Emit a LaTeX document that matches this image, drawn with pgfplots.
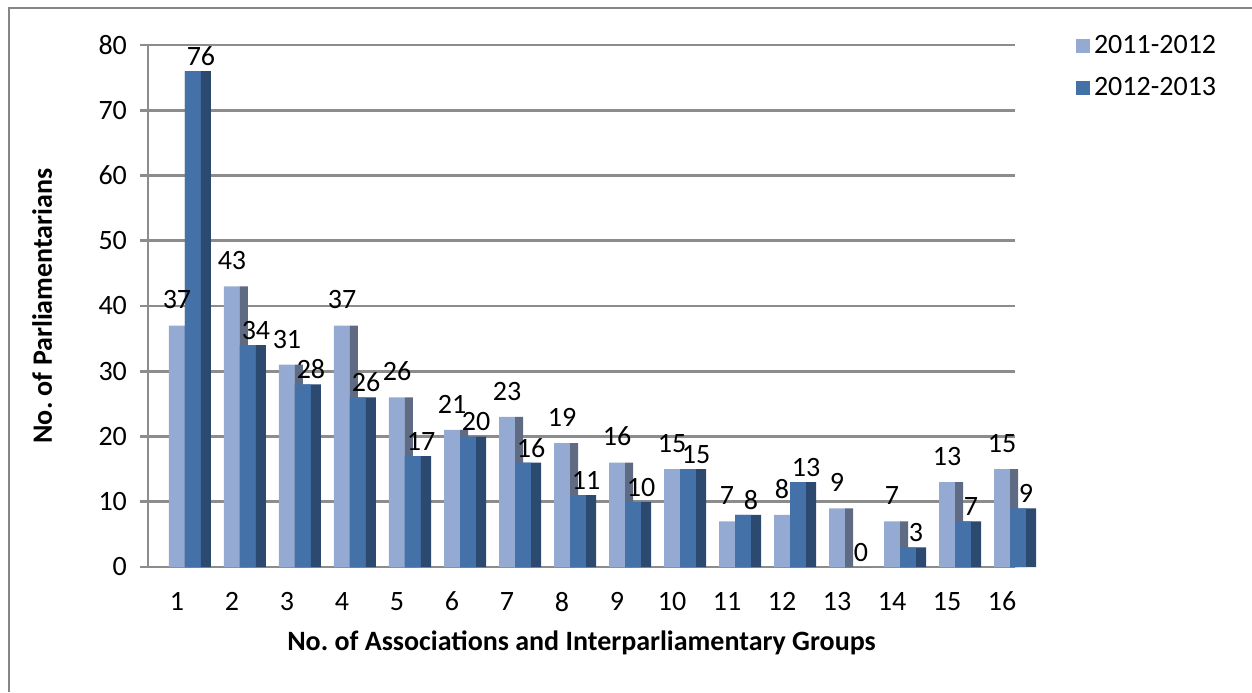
\documentclass[border=0pt]{standalone}
\usepackage{pgfplots}
\pgfplotsset{compat=1.18}
\usepackage{fontspec}
\setmainfont{Carlito}
\frenchspacing
\definecolor{lightbar}{HTML}{95AAD2}
\definecolor{lightside}{HTML}{5F6B82}
\definecolor{darkbar}{HTML}{4571A9}
\definecolor{darkside}{HTML}{2C4A70}
\definecolor{gridgray}{HTML}{8C8C8C}
\pgfplotstableread{
x a b
1 37 76
2 43 34
3 31 28
4 37 26
5 26 17
6 21 20
7 23 16
8 19 11
9 16 10
10 15 15
11 7 8
12 8 13
13 9 0
14 7 3
15 13 7
16 15 9
}\datatable
\begin{document}
\begin{tikzpicture}
\path[use as bounding box] (0,0) rectangle (626pt,346pt);
\draw[color=gray!95, line width=1pt] (4.25pt,0pt) -- (4.25pt,341.75pt) -- (626pt,341.75pt);
\begin{axis}[
  at={(74pt,62.5pt)}, anchor=south west,
  scale only axis, width=433.5pt, height=261pt,
  ybar, clip=false,
  xmin=0.473, xmax=16.236, ymin=0, ymax=80,
  xtick={1,...,16}, ytick={0,10,...,80},
  axis x line*=bottom, axis y line*=left,
  axis line style={gridgray, line width=1.3pt, -},
  x tick style={draw=none},
  y tick style={gridgray, line width=1.3pt},
  tick align=outside, major tick length=4pt,
  ymajorgrids, grid style={gridgray, line width=1.3pt},
  /pgf/number format/assume math mode=true,
  ticklabel style={font=\fontsize{14}{16}\selectfont},
  xticklabel style={yshift=-5pt},
  yticklabel style={xshift=-3pt},
  xlabel={\textbf{No. of Associations and Interparliamentary Groups}},
  ylabel={\textbf{No. of Parliamentarians}},
  label style={font=\fontsize{14}{16}\selectfont},
  xlabel style={at={(axis description cs:0.5,-0.146)}, anchor=center},
  ylabel style={at={(axis description cs:-0.122,0.5)}, anchor=center},
  legend style={at={(1.063,1.035)}, anchor=north west, draw=none, fill=none,
    font=\fontsize{14}{16}\selectfont, row sep=6.5pt},
  legend cell align=left,
  legend image code/.code={\fill[#1] (0pt,-3.5pt) rectangle (7pt,3.5pt);},
  every node near coord/.append style={font=\fontsize{14}{16}\selectfont, black, inner sep=1pt},
]
\addplot[fill=lightbar, draw=none, bar width=8pt, bar shift=0pt,
  nodes near coords, every node near coord/.append style={xshift=0pt, yshift=7pt}] table[x=x,y=a]{\datatable};
\addlegendentry{2011-2012}
\addplot[fill=darkbar, draw=none, bar width=8pt, bar shift=8pt,
  nodes near coords, every node near coord/.append style={xshift=4pt, yshift=1.5pt}] table[x=x,y=b]{\datatable};
\addlegendentry{2012-2013}
\addplot[fill=lightside, draw=none, bar width=4pt, bar shift=6pt, forget plot] table[x=x,y=a]{\datatable};
\addplot[fill=darkbar, draw=none, bar width=8pt, bar shift=8pt, forget plot] table[x=x,y=b]{\datatable};
\addplot[fill=darkside, draw=none, bar width=5pt, bar shift=14.5pt, forget plot] table[x=x,y=b]{\datatable};
\end{axis}
\end{tikzpicture}
\end{document}
